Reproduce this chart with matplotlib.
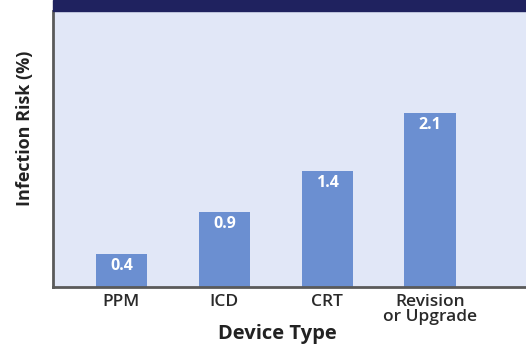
import matplotlib
matplotlib.use("Agg")
import matplotlib.pyplot as plt
from matplotlib.patches import Rectangle

# Infection risk by implanted device type
categories = ["PPM", "ICD", "CRT", "Revision\nor Upgrade"]
risk_pct = [0.4, 0.9, 1.4, 2.1]
value_labels = ["0.4", "0.9", "1.4", "2.1"]

plt.rcParams["font.family"] = ["Open Sans", "DejaVu Sans"]

W, H = 526, 345
fig = plt.figure(figsize=(W / 100, H / 100), dpi=100)
fig.patch.set_facecolor("white")

# axes box in pixel coordinates
left, right, top, bottom = 53, 530, 11, 287
ax = fig.add_axes([left / W, 1 - bottom / H, (right - left) / W, (bottom - top) / H])
ax.set_facecolor("#E1E7F7")

x = list(range(len(categories)))
ax.bar(x, risk_pct, width=0.5, color="#6B8FD1", zorder=2)
ax.set_xlim(-0.665, 3.97)
ax.set_ylim(0, 3.33)

for xi, v, lab in zip(x, risk_pct, value_labels):
    ax.annotate(lab, (xi, v), xytext=(0, -8.5), textcoords="offset points",
                ha="center", va="center", color="white", fontsize=11.5,
                fontweight="bold", zorder=3)

ax.set_xticks(x)
ax.set_xticklabels(categories, fontsize=12.5, color="#2A2A2A",
                   linespacing=0.9, fontweight="semibold")
ax.tick_params(axis="x", length=0, pad=5)
ax.set_yticks([])

for s in ["top", "right"]:
    ax.spines[s].set_visible(False)
for s in ["left", "bottom"]:
    ax.spines[s].set_color("#5A5A5A")
    ax.spines[s].set_linewidth(2)

ax.set_xlabel("Device Type", fontsize=14.5, fontweight="bold", color="#222222")
ax.xaxis.label.set_va("center")
ax.xaxis.set_label_coords((277 - left) / (right - left), -(334 - bottom) / (bottom - top))
ax.set_ylabel("Infection Risk (%)", fontsize=13, fontweight="bold", color="#222222")
ax.yaxis.label.set_va("center")
ax.yaxis.set_label_coords(-(left - 25) / (right - left), (bottom - 128) / (bottom - top))

# dark title band across the top of the panel
fig.patches.append(Rectangle((left / W, 1 - top / H), 1 - left / W, top / H,
                             transform=fig.transFigure, color="#1F225F", zorder=5))

fig.savefig("out.png", dpi=100)
